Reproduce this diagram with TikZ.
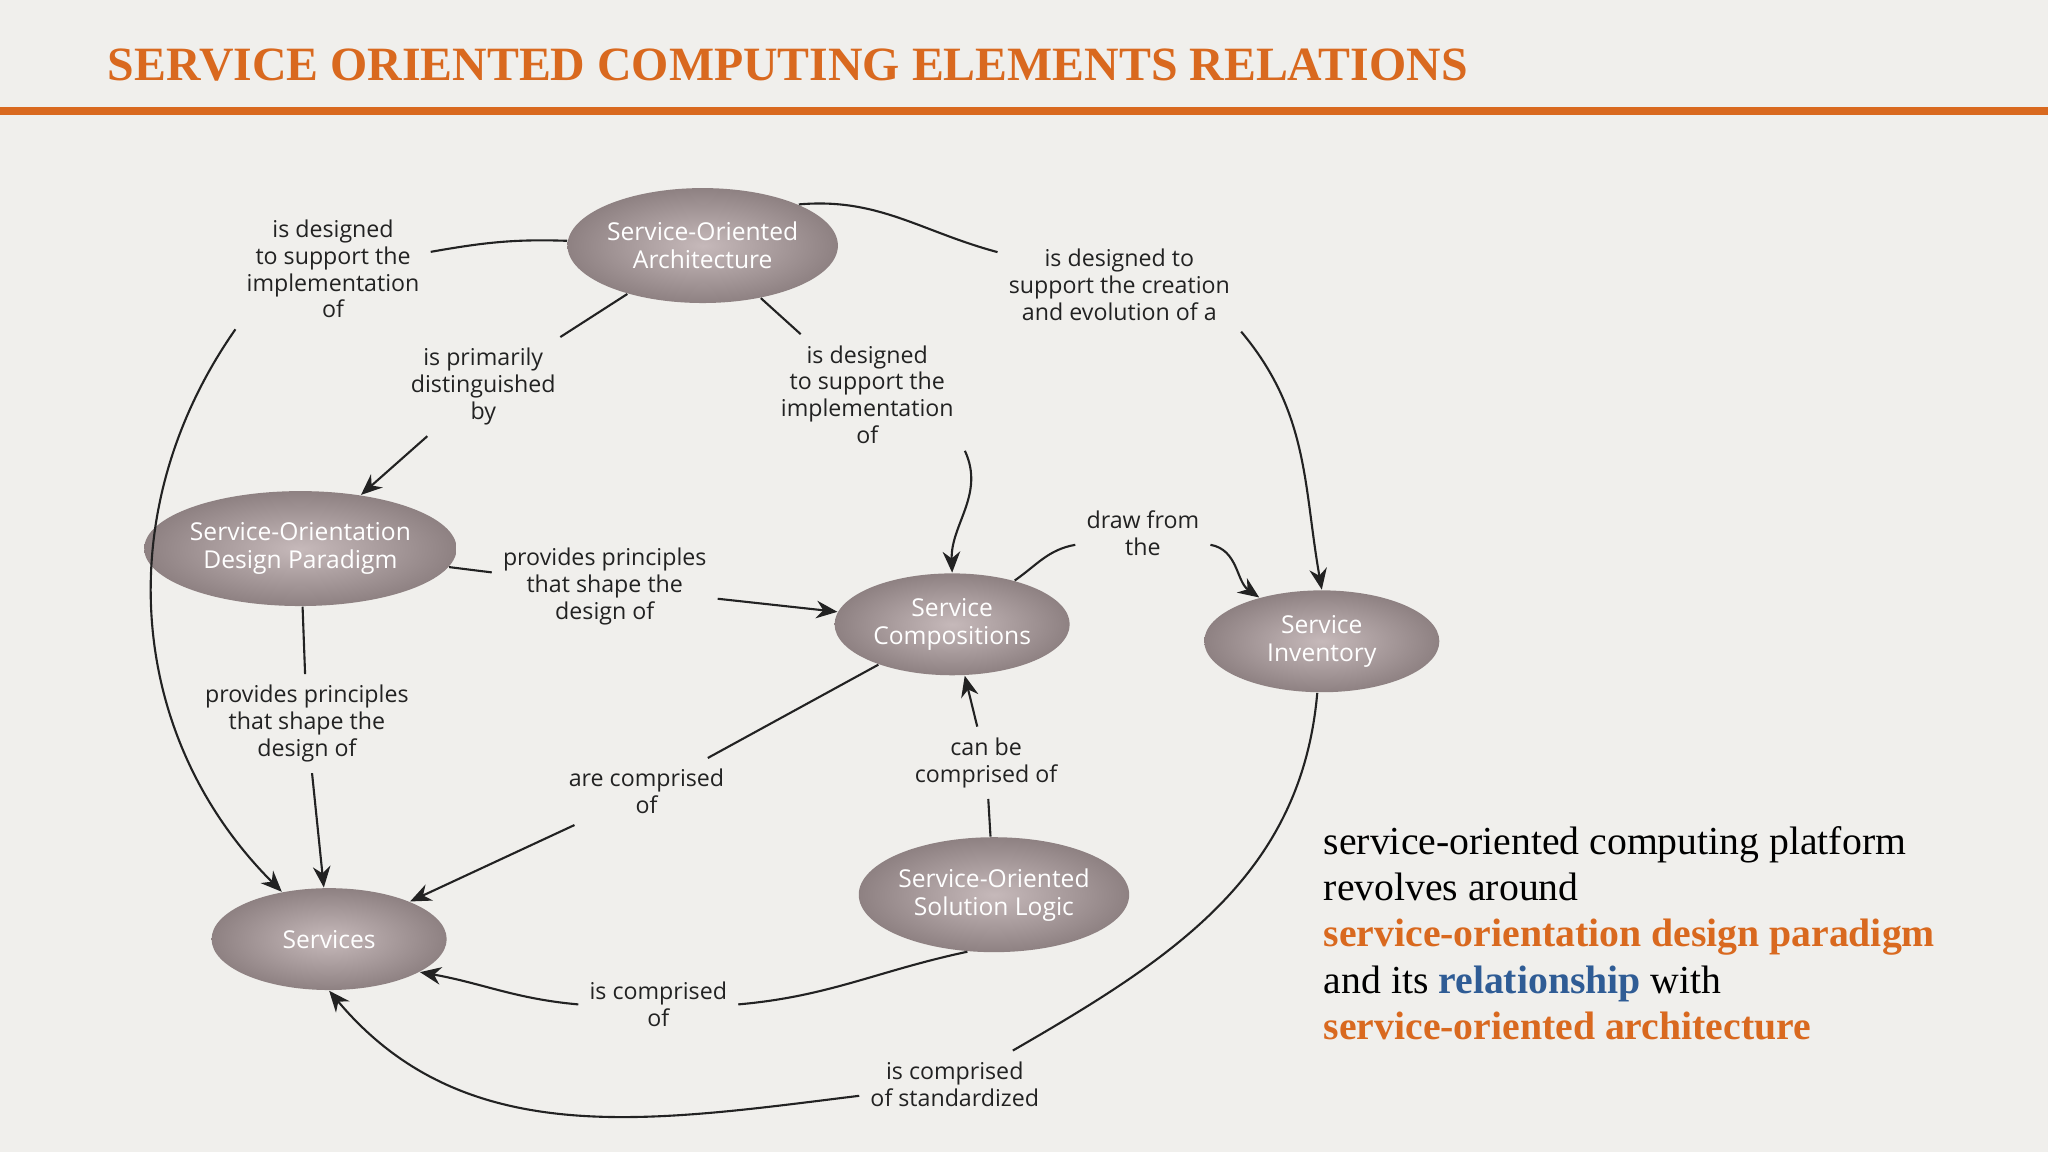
\documentclass[tikz,border=0pt]{standalone}
\usepackage{fontspec}
\setmainfont{Liberation Serif}
\newfontfamily\lab{Open Sans}
\usetikzlibrary{shapes.geometric,arrows.meta}
\definecolor{bg}{HTML}{F0EFEC}
\definecolor{org}{HTML}{D9691F}
\definecolor{blu}{HTML}{2F5C95}
\definecolor{ln}{HTML}{222222}
\definecolor{ei}{HTML}{C6B9BA}
\definecolor{eo}{HTML}{8E8182}
\begin{document}
\begin{tikzpicture}[x=0.013061cm,y=0.013061cm,
  el/.style 2 args={ellipse,inner sep=0pt,inner color=ei,outer color=eo,minimum width=#1*0.013061cm,minimum height=#2*0.013061cm,text=white,font=\lab\fontsize{7}{8}\selectfont,align=center},
  lb/.style={font=\lab\fontsize{6.6}{7.6}\selectfont,align=center,text=ln,inner sep=3pt},
  c/.style={draw=ln,line width=0.6pt},
  a/.style={c,-{Stealth[length=6pt,width=5pt]}}]
\fill[bg] (0,0) rectangle (1568,-882);
\useasboundingbox (0,0) rectangle (1568,-882);
\node[anchor=west,text=org,font=\bfseries\fontsize{13.6}{16}\selectfont,inner sep=0pt] (title) at (82,-50) {SERVICE ORIENTED COMPUTING ELEMENTS RELATIONS};
\fill[org] (0,-82) rectangle (1568,-88);
\node[el={205}{88}] (soa) at (538,-188) {Service-Oriented\\Architecture};
\node[el={205}{88}] (sodp) at (230,-420) {Service-Orientation\\Design Paradigm};
\node[el={180}{78}] (sc) at (729,-478) {Service\\Compositions};
\node[el={180}{78}] (si) at (1012,-491) {Service\\Inventory};
\node[el={180}{78}] (srv) at (252,-719) {Services};
\node[el={205}{88}] (sosl) at (761,-685) {Service-Oriented\\Solution Logic};
\node[lb] (l1) at (255,-206) {is designed\\to support the\\implementation\\of};
\node[lb] (l2) at (370,-296) {is primarily\\distinguished\\by};
\node[lb] (l3) at (664,-302) {is designed\\to support the\\implementation\\of};
\node[lb] (l4) at (857,-218) {is designed to\\support the creation\\and evolution of a};
\node[lb] (l5) at (463,-449) {provides principles\\that shape the\\design of};
\node[lb] (l6) at (235,-554) {provides principles\\that shape the\\design of};
\node[lb] (l7) at (495,-606) {are comprised\\of};
\node[lb] (l8) at (875,-408) {draw from\\the};
\node[lb] (l9) at (755,-584) {can be\\comprised of};
\node[lb] (l10) at (504,-769) {is comprised\\of};
\node[lb] (l11) at (731,-830) {is comprised\\of standardized};
\draw[c] (soa) to[out=178,in=10] (l1);
\draw[a] (l1.south west) to[out=235,in=135] (srv);
\draw[c] (soa) -- (l2);
\draw[a] (l2) -- (sodp);
\draw[c] (soa) -- (l3);
\draw[a] (l3.-30) to[out=-65,in=92] (sc.north);
\draw[c] (soa.north east) to[out=5,in=165] (l4);
\draw[a] (l4.south east) to[out=-50,in=100] (si.north);
\draw[c] (sodp) -- (l5);
\draw[a] (l5) -- (sc);
\draw[c] (sodp) -- (l6);
\draw[a] (l6) -- (srv);
\draw[c] (sc) to[out=35,in=190] (l8);
\draw[a] (l8) to[out=-10,in=145] (si);
\draw[c] (sc) -- (l7);
\draw[a] (l7) -- (srv);
\draw[c] (sosl) -- (l9);
\draw[a] (l9) -- (sc);
\draw[c] (sosl.245) to[out=192,in=5] (l10.east);
\draw[a] (l10.west) to[out=175,in=-10] (srv.-20);
\draw[c] (si) to[out=-95,in=30] (l11);
\draw[a] (l11) to[out=187,in=-50] (srv.south);
\node[anchor=north west,align=left,font=\fontsize{11.3}{13.2}\selectfont,text=black,inner sep=0pt] (txt) at (1013,-632) {service-oriented computing platform\\revolves around\\\textcolor{org}{\bfseries service-orientation design paradigm}\\and its \textcolor{blu}{\bfseries relationship} with\\ \textcolor{org}{\bfseries service-oriented architecture}};
\end{tikzpicture}
\end{document}
